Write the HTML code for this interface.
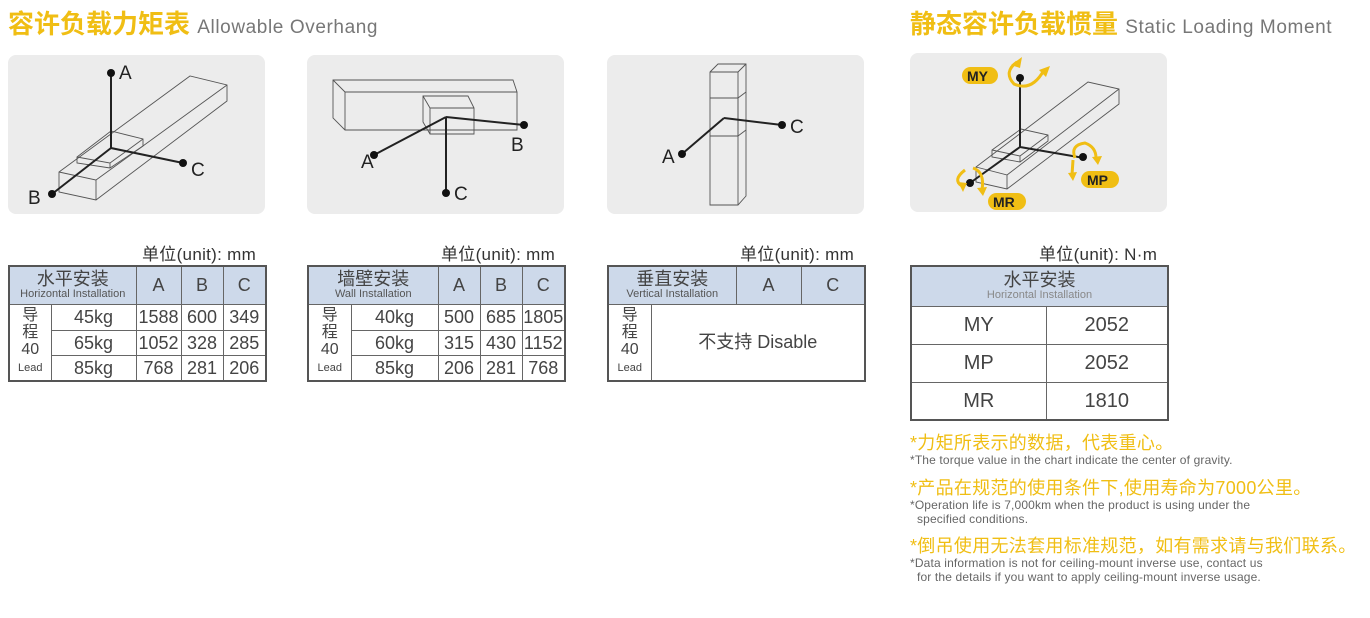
<!DOCTYPE html>
<html><head><meta charset="utf-8"><style>
*{margin:0;padding:0;box-sizing:border-box}
body{width:1370px;height:618px;background:#fff;position:relative;overflow:hidden;font-family:"Liberation Sans","Noto Sans CJK SC",sans-serif;color:#333}
.a{position:absolute;white-space:nowrap}
.t{font-size:26px;color:#f0be14;font-weight:bold;top:4px;font-family:"Liberation Sans","Noto Sans CJK SC",sans-serif}
.t span{font-size:19px;color:#777;font-weight:normal;letter-spacing:0.6px}
.unit{font-size:17px;color:#333;top:240px;letter-spacing:0.3px}
table{position:absolute;border-collapse:collapse;border:2px solid #555;table-layout:fixed}
td{border:1px solid #666;text-align:center;font-size:18px;color:#444;padding:0;line-height:1}
.h{background:#cdd9ea}
.h .cn{font-size:18px;display:block}
.h .en{font-size:11px;display:block;color:#555;margin-top:1px}
.ld{font-size:16px;line-height:17px}
.ld small{font-size:11px}
.y{color:#f0be14;font-size:18px;left:910px;letter-spacing:0.3px}
.e{color:#666;font-size:12px;left:910px;line-height:14px;letter-spacing:0.15px}
</style></head><body>
<div class="a t" style="left:8px">容许负载力矩表 <span>Allowable Overhang</span></div>
<div class="a t" style="left:910px">静态容许负载惯量 <span>Static Loading Moment</span></div>

<svg class="a" style="left:0;top:0" width="1370" height="230" viewBox="0 0 1370 230">
<g fill="#ececec"><rect x="8" y="55" width="257" height="159" rx="8"/><rect x="307" y="55" width="257" height="159" rx="8"/><rect x="607" y="55" width="257" height="159" rx="8"/><rect x="910" y="53" width="257" height="159" rx="8"/></g>
<g fill="none" stroke="#555" stroke-width="0.9">
<path d="M59 172 L190 76 L227 85 L227 101 L96 200 L59 192 Z M59 172 L96 180 L96 200 M96 180 L227 85"/>
<path d="M77 157 L111 131 L143 139 L143 146 L110 168 L77 163 Z M77 157 L110 163 L110 168 M110 163 L143 139"/>
<path d="M333 80 L513 80 L517 92 L517 130 L345 130 L333 118 Z M333 80 L345 92 L517 92 M345 92 L345 130"/>
<path d="M423 96 L468 96 L474 108 L474 134 L430 134 L423 122 Z M423 96 L430 108 L474 108 M430 108 L430 134"/>
<path d="M710 72 L718 64 L746 64 L746 196 L738 205 L710 205 Z M710 72 L738 72 L738 205 M738 72 L746 64"/>
<path d="M710 98 L738 98 L738 136 L710 136 M738 98 L746 92 M738 136 L746 130"/>
<path d="M976 167 L1088 82 L1119 89 L1119 104 L1007 189 L976 182 Z M976 167 L1007 175 L1007 189 M1007 175 L1119 89"/>
<path d="M992 150 L1021 129 L1048 135 L1048 141 L1020 162 L992 157 Z M992 150 L1020 156 L1020 162 M1020 156 L1048 135"/>
</g>
<g stroke="#222" stroke-width="2" fill="none">
<path d="M111 73 L111 148 L183 163 M111 148 L52 194"/>
<path d="M446 117 L446 193 M446 117 L374 155 M446 117 L524 125"/>
<path d="M724 118 L682 154 M724 118 L782 125"/>
<path d="M1020 76 L1020 147 L1084 158 M1020 147 L970 183"/>
</g>
<g fill="#111"><circle cx="111" cy="73" r="4"/><circle cx="183" cy="163" r="4"/><circle cx="52" cy="194" r="4"/>
<circle cx="446" cy="193" r="4"/><circle cx="374" cy="155" r="4"/><circle cx="524" cy="125" r="4"/>
<circle cx="682" cy="154" r="4"/><circle cx="782" cy="125" r="4"/>
<circle cx="1020" cy="78" r="4"/><circle cx="1083" cy="157" r="4"/><circle cx="970" cy="183" r="4"/></g>
<g font-size="19" fill="#222" font-family="Liberation Sans">
<text x="119" y="79">A</text><text x="191" y="176">C</text><text x="28" y="204">B</text>
<text x="361" y="168">A</text><text x="454" y="200">C</text><text x="511" y="151">B</text>
<text x="662" y="163">A</text><text x="790" y="133">C</text></g>
<g stroke="#f0be14" stroke-width="3" fill="none">
<path d="M1017 62 Q1003 72 1014 84 Q1032 92 1044 70"/><path d="M965 170 Q952 180 962 186 M973 168 Q985 172 982 190"/>
<path d="M1075 158 Q1070 145 1085 143 Q1096 147 1096 158 M1073 160 L1072 175"/></g>
<g fill="#f0be14"><path d="M1011 65 L1022 57 L1020 68Z M1039 70 L1050 66 L1046 77Z M958 182 L963 192 L967 183Z M977 188 L983 196 L987 187Z M1092 157 L1098 165 L1102 156Z M1068 173 L1073 181 L1077 172Z"/>
<rect x="962" y="67" width="36" height="17" rx="8.5"/><rect x="1081" y="171" width="38" height="17" rx="8.5"/><rect x="988" y="193" width="38" height="17" rx="8.5"/></g>
<g font-size="14" font-weight="bold" fill="#222" font-family="Liberation Sans">
<text x="967" y="81">MY</text><text x="1087" y="185">MP</text><text x="993" y="207">MR</text></g>
</svg>

<div class="a unit" style="left:142px">单位(unit): mm</div>
<div class="a unit" style="left:441px">单位(unit): mm</div>
<div class="a unit" style="left:740px">单位(unit): mm</div>
<div class="a unit" style="left:1039px">单位(unit): N·m</div>

<table style="left:8px;top:265px;width:257px">
<colgroup><col style="width:42px"><col style="width:85px"><col style="width:45px"><col style="width:42px"><col style="width:43px"></colgroup>
<tr class="h" style="height:38px"><td colspan="2"><span class="cn">水平安装</span><span class="en">Horizontal Installation</span></td><td>A</td><td>B</td><td>C</td></tr>
<tr style="height:26px"><td rowspan="3" class="ld">导<br>程<br>40<br><small>Lead</small></td><td>45kg</td><td>1588</td><td>600</td><td>349</td></tr>
<tr style="height:25px"><td>65kg</td><td>1052</td><td>328</td><td>285</td></tr>
<tr style="height:26px"><td>85kg</td><td>768</td><td>281</td><td>206</td></tr>
</table>

<table style="left:307px;top:265px;width:257px">
<colgroup><col style="width:43px"><col style="width:87px"><col style="width:42px"><col style="width:42px"><col style="width:43px"></colgroup>
<tr class="h" style="height:38px"><td colspan="2"><span class="cn">墙壁安装</span><span class="en">Wall Installation</span></td><td>A</td><td>B</td><td>C</td></tr>
<tr style="height:26px"><td rowspan="3" class="ld">导<br>程<br>40<br><small>Lead</small></td><td>40kg</td><td>500</td><td>685</td><td>1805</td></tr>
<tr style="height:25px"><td>60kg</td><td>315</td><td>430</td><td>1152</td></tr>
<tr style="height:26px"><td>85kg</td><td>206</td><td>281</td><td>768</td></tr>
</table>

<table style="left:607px;top:265px;width:257px">
<colgroup><col style="width:43px"><col style="width:85px"><col style="width:65px"><col style="width:64px"></colgroup>
<tr class="h" style="height:38px"><td colspan="2"><span class="cn">垂直安装</span><span class="en">Vertical Installation</span></td><td>A</td><td>C</td></tr>
<tr style="height:77px"><td class="ld">导<br>程<br>40<br><small>Lead</small></td><td colspan="3">不支持 Disable</td></tr>
</table>

<table style="left:910px;top:265px;width:257px">
<colgroup><col style="width:135px"><col style="width:122px"></colgroup>
<tr class="h" style="height:40px"><td colspan="2"><span class="cn">水平安装</span><span class="en" style="color:#888">Horizontal Installation</span></td></tr>
<tr style="height:38px"><td style="font-size:20px">MY</td><td style="font-size:20px">2052</td></tr>
<tr style="height:38px"><td style="font-size:20px">MP</td><td style="font-size:20px">2052</td></tr>
<tr style="height:38px"><td style="font-size:20px">MR</td><td style="font-size:20px">1810</td></tr>
</table>

<div class="a y" style="top:429px">*力矩所表示的数据，代表重心。</div>
<div class="a e" style="top:453px">*The torque value in the chart indicate the center of gravity.</div>
<div class="a y" style="top:474px">*产品在规范的使用条件下,使用寿命为7000公里。</div>
<div class="a e" style="top:498px">*Operation life is 7,000km when the product is using under the<br>&nbsp;&nbsp;specified conditions.</div>
<div class="a y" style="top:532px">*倒吊使用无法套用标准规范，如有需求请与我们联系。</div>
<div class="a e" style="top:556px">*Data information is not for ceiling-mount inverse use, contact us<br>&nbsp;&nbsp;for the details if you want to apply ceiling-mount inverse usage.</div>
</body></html>
